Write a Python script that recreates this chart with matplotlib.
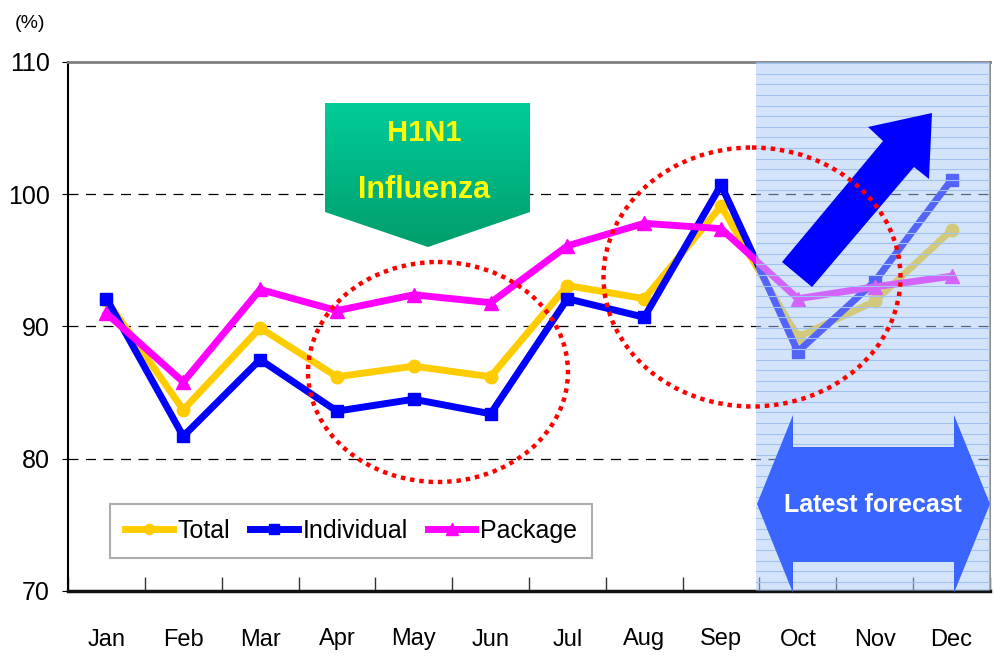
import numpy as np
import matplotlib
matplotlib.use("Agg")
import matplotlib.pyplot as plt
from matplotlib.patches import Polygon, Ellipse
from matplotlib.colors import LinearSegmentedColormap

plt.rcParams['font.family'] = ['Liberation Sans', 'DejaVu Sans']

# data (%)
months = ['Jan', 'Feb', 'Mar', 'Apr', 'May', 'Jun',
          'Jul', 'Aug', 'Sep', 'Oct', 'Nov', 'Dec']
total = [92.0, 83.7, 89.9, 86.2, 87.0, 86.2, 93.1, 92.1, 99.1, 89.2, 91.9, 97.3]
individual = [92.1, 81.7, 87.5, 83.6, 84.5, 83.4, 92.1, 90.7, 100.7, 88.1, 93.4, 101.1]
package = [91.0, 85.8, 92.8, 91.2, 92.4, 91.8, 96.1, 97.8, 97.4, 92.1, 93.0, 93.8]
yticks = [70, 80, 90, 100, 110]

W, H = 994, 657
fig = plt.figure(figsize=(W / 100, H / 100), dpi=100)
ax = fig.add_axes([68 / W, 1 - 591 / H, 922 / W, 529 / H])

x = np.arange(len(months))
ax.plot(x, total, color='#ffcc00', lw=5, marker='o', ms=9, label='Total', zorder=3)
ax.plot(x, individual, color='#0000ff', lw=5, marker='s', ms=9, label='Individual', zorder=3)
ax.plot(x, package, color='#ff00ff', lw=5, marker='^', ms=10, label='Package', zorder=3)

ax.set_xlim(-0.5, 11.5)
ax.set_ylim(70, 110)
ax.set_yticks(yticks)
ax.set_yticklabels([str(v) for v in yticks], fontsize=18)
for v in [80, 90, 100]:
    ax.axhline(v, color='black', lw=0.9, ls=(0, (8, 6)), zorder=2)

ax.set_xticks(x)
ax.set_xticklabels(months, fontsize=17)
ax.set_xticks(np.arange(-0.5, 12, 1), minor=True)
ax.tick_params(axis='x', which='major', length=0, pad=27)
ax.tick_params(axis='x', which='minor', direction='in', length=10, width=1, color='#333333')
ax.tick_params(axis='y', direction='out', length=4, pad=9)

for side, c, w in [('left', 'black', 1.5), ('bottom', '#111111', 2.5),
                   ('top', '#808080', 2), ('right', '#909090', 1.5)]:
    ax.spines[side].set_color(c)
    ax.spines[side].set_linewidth(w)

# forecast shading, drawn over the lines
ax.axvspan(8.455, 11.5, color='#a8c8f5', alpha=0.5, lw=0, zorder=4)
for yy in np.arange(70.7, 110, 0.8):
    ax.axhline(yy, xmin=(8.955) / 12, xmax=1, color='#a0c2f0', lw=0.8, zorder=4.5)

leg = ax.legend(loc='lower left', bbox_to_anchor=(42 / 922, 33 / 529), ncol=3,
                fontsize=18, frameon=True, fancybox=False, handlelength=1.9,
                handletextpad=0.2, columnspacing=0.8, borderpad=0.6,
                borderaxespad=0, markerscale=0.8)
leg.get_frame().set_edgecolor('#999999')
leg.get_frame().set_linewidth(1.5)

ax.text(-0.025, 1.065, '(%)', transform=ax.transAxes, fontsize=14, ha='right')

# annotation layer in pixel coordinates
ov = fig.add_axes([0, 0, 1, 1], zorder=5)
ov.patch.set_alpha(0)

# H1N1 box with gradient
box = Polygon([(325, 103), (530, 103), (530, 212), (428, 247), (325, 212)],
              closed=True, facecolor='none', edgecolor='none')
ov.add_patch(box)
green = LinearSegmentedColormap.from_list('g', ['#00cc99', '#009e6c'])
im = ov.imshow(np.linspace(0, 1, 100).reshape(-1, 1), cmap=green,
               extent=[325, 530, 247, 103], origin='upper', aspect='auto')
im.set_clip_path(box)
ov.text(424, 133, 'H1N1', color='#ffff00', fontsize=21, fontweight='bold',
        ha='center', va='center')
ov.text(424, 190, 'Influenza', color='#ffff00', fontsize=22, fontweight='bold',
        ha='center', va='center')

# blue rising arrow
ov.add_patch(Polygon([(782, 262), (883, 141), (868, 127), (932, 113),
                      (929, 179), (914, 167), (812, 287)],
                     closed=True, facecolor='#0000ff', edgecolor='none'))

# dotted ellipses
for cx, cy, w, h in [(438, 372, 260, 220), (752, 277, 297, 259)]:
    ov.add_patch(Ellipse((cx, cy), w, h, facecolor='none', edgecolor='#ff0000',
                         lw=3.2, ls=(0, (1, 1.1))))

# latest forecast double arrow
ov.add_patch(Polygon([(757, 504), (793, 415), (793, 447), (954, 447), (954, 415),
                      (990, 504), (954, 593), (954, 562), (793, 562), (793, 593)],
                     closed=True, facecolor='#3a66ff', edgecolor='none'))
ov.text(873, 505, 'Latest forecast', color='white', fontsize=18, fontweight='bold',
        ha='center', va='center')

ov.set_xlim(0, W)
ov.set_ylim(H, 0)
ov.axis('off')

fig.savefig('out.png', dpi=100)
